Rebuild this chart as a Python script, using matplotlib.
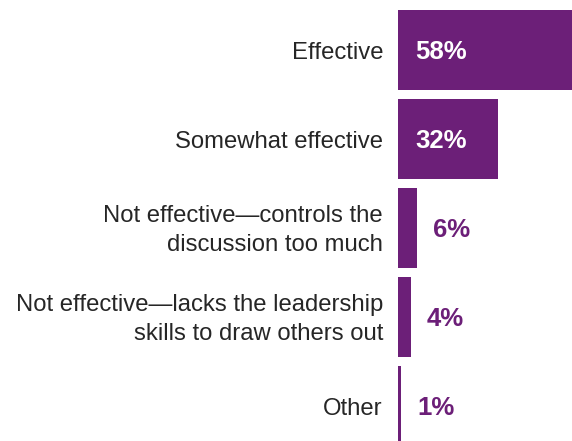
import matplotlib.pyplot as plt

# survey answers, top to bottom
labels = [
    "Effective",
    "Somewhat effective",
    "Not effective\u2014controls the\ndiscussion too much",
    "Not effective\u2014lacks the leadership\nskills to draw others out",
    "Other",
]
values = [58, 32, 6, 4, 1]

purple = "#6c1f78"

plt.rcParams['font.family'] = ['Liberation Sans', 'DejaVu Sans']

fig = plt.figure(figsize=(5.72, 4.41), dpi=100)
ax = fig.add_axes([0, 0, 1, 1])

# 3.125 px per percent, zero line at x=398 px
px_per = 3.125
ax.set_xlim(-398 / px_per, (572 - 398) / px_per)
pitch = 89
ax.set_ylim((441 - 50) / pitch, -50 / pitch)

y = list(range(len(values)))
ax.barh(y, values, height=80 / pitch, color=purple)

for yi, lab, v in zip(y, labels, values):
    ax.annotate(lab, (0, yi), xytext=(-15, -2.5), textcoords='offset pixels',
                ha='right', va='center', fontsize=17.2, color='#262626',
                linespacing=1.42)
    if v > 20:
        ax.annotate(f"{v}%", (0, yi), xytext=(17, -2), textcoords='offset pixels',
                    ha='left', va='center', fontsize=18.5, fontweight='bold',
                    color='white')
    else:
        ax.annotate(f"{v}%", (v, yi), xytext=(16, -2), textcoords='offset pixels',
                    ha='left', va='center', fontsize=18.5, fontweight='bold',
                    color=purple)

ax.axis('off')
fig.savefig('out.png', dpi=100)
